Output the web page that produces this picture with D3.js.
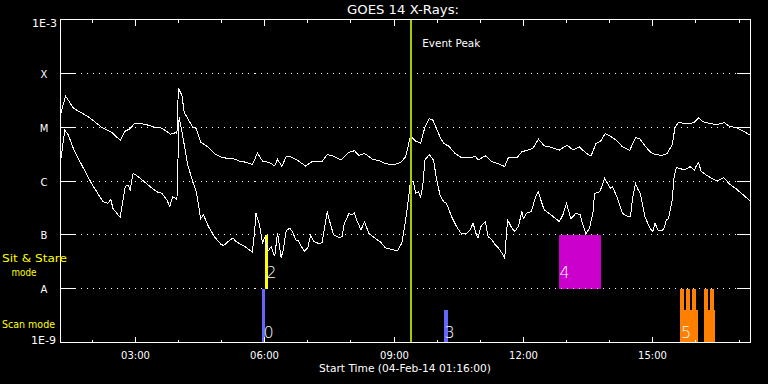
<!DOCTYPE html>
<html><head><meta charset="utf-8">
<script src="https://cdn.jsdelivr.net/npm/d3@7"></script>
<style>
html,body{margin:0;padding:0;background:#000;}
svg{display:block;background:#000;}
text{font-family:"DejaVu Sans",sans-serif;fill:#fff;}
</style></head><body>
<svg id="c" width="768" height="384"></svg>
<script>
// ---------------- data ----------------
const titleText = "GOES 14 X-Rays:";
const startLabel = "Start Time (04-Feb-14 01:16:00)";
const dateStr = "2014-02-04";
const timeDomain = ["01:16", "17:16"];
const fluxDomain = [1e-9, 1e-3];
const classNames = ["X", "M", "C", "B", "A"];
const classFlux = [1e-4, 1e-5, 1e-6, 1e-7, 1e-8];
const edgeLabels = ["1E-3", "1E-9"];
const hourTickFormat = "%H:%M";
const eventPeakTime = "09:24";
const eventPeakLabel = "Event Peak";
const modeNames = ["Sit & Stare", "mode", "Scan mode"];

// GOES long channel (1-8 Å), W/m^2
const longChannel = [
["01:16",1.7e-5],["01:23",3.8e-5],["01:34",2.25e-5],["01:55",1.55e-5],["02:13",1.0e-5],["02:27",8.1e-6],
["02:39",5.7e-6],["02:46",8.4e-6],["02:53",9.4e-6],["02:59",1.17e-5],["03:13",1.14e-5],["03:28",9.9e-6],
["03:36",9.7e-6],["03:45",8.1e-6],["03:49",7.4e-6],["03:56",7.9e-6],["03:58",7.7e-6],["04:00",5.3e-5],
["04:05",3.9e-5],["04:08",1.9e-5],["04:13",1.45e-5],["04:20",1.0e-5],["04:25",9.4e-6],["04:31",5.3e-6],
["04:41",4.3e-6],["04:52",3.1e-6],["05:02",2.7e-6],["05:16",2.6e-6],["05:25",2.35e-6],["05:36",2.2e-6],
["05:43",2.0e-6],["05:50",3.3e-6],["05:57",2.35e-6],["06:07",2.2e-6],["06:14",1.9e-6],["06:18",2.55e-6],
["06:24",1.85e-6],["06:30",2.85e-6],["06:37",2.8e-6],["06:45",2.45e-6],["06:57",1.9e-6],["07:06",2.3e-6],
["07:20",2.3e-6],["07:27",3.1e-6],["07:34",2.95e-6],["07:46",2.45e-6],["07:57",3.4e-6],["08:05",3.65e-6],
["08:11",3.0e-6],["08:19",3.25e-6],["08:30",2.55e-6],["08:41",2.35e-6],["08:48",2.1e-6],["09:00",2.0e-6],
["09:09",2.2e-6],["09:16",2.8e-6],["09:20",4.6e-6],["09:23",7.1e-6],["09:29",5.6e-6],["09:37",5.0e-6],
["09:43",1.0e-5],["09:49",1.45e-5],["09:54",1.35e-5],["10:04",6.6e-6],["10:09",5.0e-6],["10:16",4.45e-6],
["10:25",3.25e-6],["10:34",2.7e-6],["10:48",2.7e-6],["10:53",2.9e-6],["10:57",2.45e-6],["11:07",2.95e-6],
["11:16",2.3e-6],["11:27",2.05e-6],["11:34",1.85e-6],["11:39",2.7e-6],["11:51",2.7e-6],["11:58",3.5e-6],
["12:06",3.75e-6],["12:13",4.0e-6],["12:21",6.0e-6],["12:29",4.5e-6],["12:36",4.35e-6],["12:50",3.75e-6],
["13:01",4.65e-6],["13:09",3.75e-6],["13:18",4.3e-6],["13:27",3.3e-6],["13:34",2.9e-6],["13:41",4.95e-6],
["13:48",5.6e-6],["13:54",7.65e-6],["14:00",6.9e-6],["14:09",5.75e-6],["14:18",4.3e-6],["14:28",3.7e-6],
["14:36",6.4e-6],["14:42",6.1e-6],["14:49",4.55e-6],["14:56",3.5e-6],["15:03",3.1e-6],["15:13",3.0e-6],
["15:20",3.25e-6],["15:27",4.65e-6],["15:31",1.0e-5],["15:36",1.24e-5],["15:43",1.17e-5],["15:57",1.2e-5],
["16:04",1.5e-5],["16:09",1.27e-5],["16:24",1.14e-5],["16:29",1.12e-5],["16:40",1.21e-5],["16:46",1.05e-5],
["16:57",9.7e-6],["17:06",8.4e-6],["17:16",7.1e-6]
];

// GOES short channel (0.5-4 Å), W/m^2
const shortChannel = [
["01:16",2.3e-6],["01:22",8.8e-6],["01:27",7.1e-6],["01:34",4.0e-6],["01:43",2.3e-6],["01:59",9.1e-7],
["02:15",4.15e-7],["02:22",3.85e-7],["02:26",4.5e-7],["02:29",3.1e-7],["02:39",2.1e-7],["02:46",7.85e-7],
["02:50",8.4e-7],["02:53",6.8e-7],["02:57",1.4e-6],["03:07",1.12e-6],["03:18",8.4e-7],["03:30",6.3e-7],
["03:37",5.9e-7],["03:44",4.45e-7],["03:48",3.35e-7],["03:52",5.1e-7],["03:57",4.65e-7],["03:58",4.6e-7],
["04:01",1.55e-5],["04:05",8.1e-6],["04:10",3.45e-6],["04:13",2.0e-6],["04:20",9.7e-7],["04:25",6.3e-7],
["04:31",2.0e-7],["04:35",2.35e-7],["04:41",1.5e-7],["04:50",9.3e-8],["04:59",6.7e-8],["05:03",6.3e-8],
["05:09",7.5e-8],["05:16",8.7e-8],["05:20",7.5e-8],["05:32",6.1e-8],["05:43",4.8e-8],["05:46",1.15e-7],
["05:48",2.5e-7],["05:53",1.5e-7],["05:57",7.1e-8],["06:00",8.8e-8],["06:05",5.05e-8],["06:09",6.0e-8],
["06:14",4.0e-8],["06:18",1.09e-7],["06:23",3.75e-8],["06:26",5.3e-8],["06:30",1.19e-7],["06:35",1.33e-7],
["06:39",1.14e-7],["06:43",8.1e-8],["06:47",7.75e-8],["06:50",6.5e-8],["06:55",4.95e-8],["07:00",5.75e-8],
["07:04",9.8e-8],["07:09",7.4e-8],["07:15",6.95e-8],["07:20",7.1e-8],["07:27",2.7e-7],["07:32",1.5e-7],
["07:36",1.0e-7],["07:44",8.8e-8],["07:48",9.3e-8],["07:50",1.5e-7],["07:57",2.45e-7],["08:02",2.4e-7],
["08:05",2.55e-7],["08:09",1.76e-7],["08:14",1.24e-7],["08:19",1.74e-7],["08:25",1.07e-7],["08:34",8.6e-8],
["08:41",7.4e-8],["08:48",5.75e-8],["08:58",5.3e-8],["09:05",5.05e-8],["09:11",7.1e-8],["09:15",1.5e-7],
["09:20",4.45e-7],["09:23",1.04e-6],["09:27",9.7e-7],["09:30",5.9e-7],["09:34",6.3e-7],["09:37",5.1e-7],
["09:40",7.85e-7],["09:43",2.45e-6],["09:49",3.1e-6],["09:55",2.45e-6],["09:59",1.12e-6],["10:04",5.5e-7],
["10:09",4.15e-7],["10:13",3.85e-7],["10:20",2.2e-7],["10:27",1.43e-7],["10:34",1.03e-7],["10:41",1.07e-7],
["10:46",1.24e-7],["10:50",1.65e-7],["10:54",1.07e-7],["10:57",8.7e-8],["11:01",1.43e-7],["11:07",1.76e-7],
["11:11",9.3e-8],["11:16",8.1e-8],["11:21",6.5e-8],["11:25",5.8e-8],["11:30",4.6e-8],["11:34",3.7e-8],
["11:38",1.9e-7],["11:44",1.33e-7],["11:48",1.15e-7],["11:53",1.43e-7],["11:58",2.7e-7],["12:00",2.0e-7],
["12:04",2.5e-7],["12:11",2.7e-7],["12:17",5.1e-7],["12:21",6.3e-7],["12:25",4.15e-7],["12:29",2.9e-7],
["12:36",2.5e-7],["12:45",2.0e-7],["12:50",1.76e-7],["12:55",2.35e-7],["13:00",3.85e-7],["13:06",2.0e-7],
["13:13",2.5e-7],["13:19",2.35e-7],["13:23",1.5e-7],["13:27",1.04e-7],["13:32",1.33e-7],["13:37",2.7e-7],
["13:39",5.9e-7],["13:46",6.3e-7],["13:50",8.4e-7],["13:53",1.12e-6],["13:57",9.1e-7],["14:01",7.35e-7],
["14:04",7.85e-7],["14:11",4.8e-7],["14:18",2.5e-7],["14:25",2.2e-7],["14:29",2.2e-7],["14:32",4.8e-7],
["14:36",9.1e-7],["14:39",7.1e-7],["14:42",6.3e-7],["14:45",4.15e-7],["14:49",2.2e-7],["14:56",1.33e-7],
["15:00",1.15e-7],["15:03",1.65e-7],["15:08",1.19e-7],["15:15",1.24e-7],["15:19",1.9e-7],["15:22",2.0e-7],
["15:27",4.45e-7],["15:30",1.29e-6],["15:33",1.76e-6],["15:38",1.72e-6],["15:43",1.6e-6],["15:52",1.84e-6],
["15:58",1.6e-6],["16:00",1.84e-6],["16:04",2.2e-6],["16:07",1.53e-6],["16:13",1.33e-6],["16:22",1.12e-6],
["16:29",1.0e-6],["16:39",1.15e-6],["16:47",8.7e-7],["16:55",7.35e-7],["17:06",5.5e-7],["17:16",4.2e-7]
];

// IRIS observations (mode band, relative height within band)
const obsLabel = ["0", "2", "3", "4", "5", "", "", "", "", "", ""];
const obsGroup = ["0", "2", "3", "4", "5", "5", "5", "5", "5", "5", "5"];
const obsStart = ["05:57","06:01","10:09","12:49","15:38","15:38","15:46","15:54","16:11","16:11","16:20"];
const obsEnd   = ["06:01","06:04","10:15","13:48","16:03","15:43","15:52","16:00","16:27","16:17","16:25"];
const obsMode  = ["scan","sit","scan","sit","scan","scan","scan","scan","scan","scan","scan"];
const obsLevel = [1, 1, 0.6, 1, 0.6, 1, 1, 1, 0.6, 1, 1];

// ---------------- styles ----------------
const groupColor = {"0":"#6464ff","2":"#ffff00","3":"#6464ff","4":"#cc00cc","5":"#ff8000"};
const modeBand = {scan:[1e-9,1e-8], sit:[1e-8,1e-7]};
const peakColor = "#a4cc00";

// ---------------- drawing ----------------
const svg = d3.select("#c");
const parseT = d3.utcParse("%Y-%m-%d %H:%M");
const T = s => parseT(dateStr + " " + s);
const L = 60.5, R = 750.5, TOP = 19.5, BOT = 342.5;
const x = d3.scaleUtc().domain(timeDomain.map(T)).range([L, R]);
const y = d3.scaleLog().domain(fluxDomain).range([BOT, TOP]);
const px = v => Math.floor(v) + 0.5;

svg.append("defs").append("clipPath").attr("id","clip")
  .append("rect").attr("x", L).attr("y", TOP).attr("width", R - L).attr("height", BOT - TOP);

// observation bars
const obs = obsStart.map((s, i) => ({
  label: obsLabel[i], group: obsGroup[i], t0: T(s), t1: T(obsEnd[i]),
  band: modeBand[obsMode[i]], level: obsLevel[i], mode: obsMode[i]
}));
const bandTop = d => {
  const lo = Math.log10(d.band[0]), hi = Math.log10(d.band[1]);
  return Math.pow(10, lo + d.level * (hi - lo));
};
const gBars = svg.append("g").attr("clip-path","url(#clip)");
gBars.selectAll("rect").data(obs).join("rect")
  .attr("x", d => Math.round(x(d.t0)))
  .attr("width", d => Math.max(2, Math.round(x(d.t1)) - Math.round(x(d.t0))))
  .attr("y", d => Math.round(y(bandTop(d))))
  .attr("height", d => Math.round(y(d.band[0])) - Math.round(y(bandTop(d))))
  .attr("fill", d => groupColor[d.group])
  .attr("shape-rendering","crispEdges");

// class levels: ticks + dotted grid
const gGrid = svg.append("g").attr("stroke","#fff").attr("stroke-width",1).attr("shape-rendering","crispEdges");
classFlux.forEach((f, i) => {
  const yy = px(y(f));
  gGrid.append("line").attr("x1", L).attr("x2", L + 14).attr("y1", yy).attr("y2", yy);
  gGrid.append("line").attr("x1", R - 14).attr("x2", R).attr("y1", yy).attr("y2", yy);
  gGrid.append("line").attr("x1", L + 14).attr("x2", R - 14).attr("y1", yy).attr("y2", yy)
    .attr("stroke-dasharray","1,5");
  svg.append("text").attr("x", 44).attr("y", yy + 4.5).attr("text-anchor","middle")
    .attr("font-size", 10).text(classNames[i]);
});
svg.append("text").attr("x", 57).attr("y", px(y(fluxDomain[1])) + 7.5).attr("text-anchor","end")
  .attr("font-size", 10).attr("textLength", 25).attr("lengthAdjust","spacingAndGlyphs").text(edgeLabels[0]);
svg.append("text").attr("x", 56).attr("y", px(y(fluxDomain[0])) + 1).attr("text-anchor","end")
  .attr("font-size", 10).attr("textLength", 25).attr("lengthAdjust","spacingAndGlyphs").text(edgeLabels[1]);

// curves
const line = d3.line().x(d => x(T(d[0]))).y(d => y(d[1]));
const gCurves = svg.append("g").attr("clip-path","url(#clip)")
  .attr("fill","none").attr("stroke","#fff").attr("stroke-width",1).attr("shape-rendering","crispEdges");
gCurves.append("path").attr("d", line(longChannel));
gCurves.append("path").attr("d", line(shortChannel));

// event peak
const xp = x(T(eventPeakTime));
svg.append("line").attr("x1", xp).attr("x2", xp).attr("y1", TOP).attr("y2", BOT)
  .attr("stroke", peakColor).attr("stroke-width", 2).attr("shape-rendering","crispEdges");
svg.append("text").attr("x", xp + 11).attr("y", 47).attr("font-size", 10.5)
  .attr("textLength", 58).attr("lengthAdjust","spacingAndGlyphs").text(eventPeakLabel);

// observation labels
svg.append("g").selectAll("text").data(obs.filter(d => d.label)).join("text")
  .attr("x", d => x(d.t0) + 1)
  .attr("y", d => d.mode === "scan" ? y(d.band[0]) - 4.5 : y(d.band[0]) - 11)
  .attr("font-size", 16).attr("font-weight", 300)
  .text(d => d.label);

// frame
svg.append("rect").attr("x", L).attr("y", TOP).attr("width", R - L).attr("height", BOT - TOP)
  .attr("fill","none").attr("stroke","#fff").attr("stroke-width",1).attr("shape-rendering","crispEdges");

// hour ticks
const hours = d3.utcHour.range(d3.utcHour.ceil(x.domain()[0]), x.domain()[1]);
const gX = svg.append("g").attr("stroke","#fff").attr("shape-rendering","crispEdges");
const fmt = d3.utcFormat(hourTickFormat);
hours.forEach(h => {
  const xx = px(x(h));
  const major = h.getUTCHours() % 3 === 0;
  const len = major ? 6 : 3;
  gX.append("line").attr("x1", xx).attr("x2", xx).attr("y1", BOT).attr("y2", BOT - len);
  gX.append("line").attr("x1", xx).attr("x2", xx).attr("y1", TOP).attr("y2", TOP + len);
  if (major) {
    svg.append("text").attr("x", xx).attr("y", 359).attr("text-anchor","middle")
      .attr("font-size", 10).text(fmt(h));
  }
});

// titles
svg.append("text").attr("x", 403).attr("y", 14).attr("text-anchor","middle")
  .attr("font-size", 12.5).attr("textLength", 112).attr("lengthAdjust","spacingAndGlyphs").text(titleText);
svg.append("text").attr("x", 405).attr("y", 372).attr("text-anchor","middle")
  .attr("font-size", 10.5).attr("textLength", 172).attr("lengthAdjust","spacingAndGlyphs").text(startLabel);

// mode labels
svg.append("text").attr("x", 2).attr("y", 262).attr("font-size", 10).style("fill","#ffff00")
  .attr("textLength", 65).attr("lengthAdjust","spacingAndGlyphs").text(modeNames[0]);
svg.append("text").attr("x", 24).attr("y", 275.5).attr("text-anchor","middle").attr("font-size", 10).style("fill","#ffff00")
  .attr("textLength", 25).attr("lengthAdjust","spacingAndGlyphs").text(modeNames[1]);
svg.append("text").attr("x", 2).attr("y", 328).attr("font-size", 10.5).style("fill","#ffff00")
  .attr("textLength", 53).attr("lengthAdjust","spacingAndGlyphs").text(modeNames[2]);
</script>
</body></html>
